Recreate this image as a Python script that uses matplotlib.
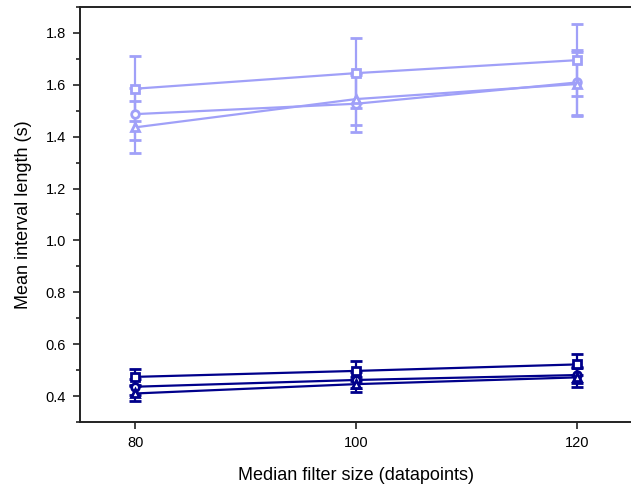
import matplotlib
matplotlib.use("Agg")
import matplotlib.pyplot as plt
from matplotlib.ticker import MultipleLocator

plt.rcParams['font.family'] = ['Liberation Sans', 'DejaVu Sans']

x = [80, 100, 120]

# light series
light_sq = [1.585, 1.645, 1.695]
light_sq_err = [0.125, 0.135, 0.14]
light_ci = [1.487, 1.527, 1.609]
light_ci_err = [0.10, 0.11, 0.125]
light_tr = [1.436, 1.545, 1.603]
light_tr_err = [0.10, 0.10, 0.125]

# dark series
dark_sq = [0.474, 0.497, 0.522]
dark_sq_err = [0.03, 0.04, 0.042]
dark_ci = [0.436, 0.462, 0.481]
dark_ci_err = [0.03, 0.03, 0.03]
dark_tr = [0.41, 0.446, 0.472]
dark_tr_err = [0.028, 0.029, 0.036]

light = '#a0a0f8'
dark = '#00008b'

fig = plt.figure(figsize=(6.31, 4.93), dpi=100)
ax = fig.add_axes([80/631, 1-422/493, 552/631, 415/493])

series = [
    (light_sq, light_sq_err, 's', light),
    (light_ci, light_ci_err, 'o', light),
    (light_tr, light_tr_err, '^', light),
    (dark_sq, dark_sq_err, 's', dark),
    (dark_ci, dark_ci_err, 'o', dark),
    (dark_tr, dark_tr_err, '^', dark),
]
for y, e, m, c in series:
    ax.errorbar(x, y, yerr=e, color=c, marker=m, ms=5.5, mfc='white', mec=c,
                mew=2.0, lw=1.6, elinewidth=1.6, capsize=4, capthick=1.8)

ax.set_xlim(75, 125)
ax.set_ylim(0.3, 1.9)
ax.set_xticks(x)
ax.yaxis.set_major_locator(MultipleLocator(0.2))
ax.yaxis.set_minor_locator(MultipleLocator(0.1))
ax.yaxis.set_major_formatter(matplotlib.ticker.FormatStrFormatter('%.1f'))
ax.tick_params(axis='both', which='both', direction='out', top=False, right=False,
               labelsize=10.5, width=1.2, color='#222222', pad=5)
ax.tick_params(axis='both', which='major', length=5)
ax.tick_params(axis='y', which='minor', length=3)
for s in ax.spines.values():
    s.set_linewidth(1.4)
    s.set_color('#222222')

ax.set_xlabel('Median filter size (datapoints)', fontsize=13, labelpad=12)
ax.set_ylabel('Mean interval length (s)', fontsize=13, labelpad=10)

fig.savefig('out.png', dpi=100)
